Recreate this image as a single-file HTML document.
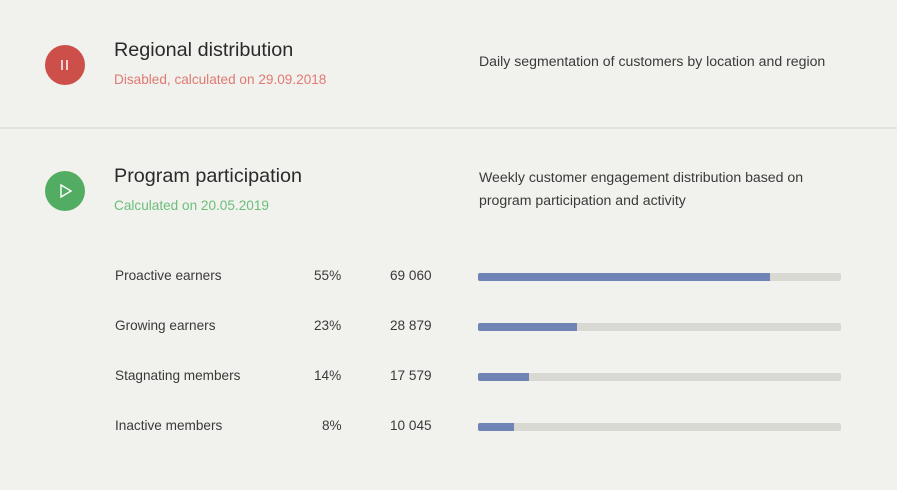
<!DOCTYPE html><html><head><style>
body{margin:0;width:897px;height:490px;background:#f1f1ed;font-family:"Liberation Sans",sans-serif;position:relative;overflow:hidden;color:#222}
.a{position:absolute;white-space:nowrap}
.c{position:absolute;width:40px;height:40px;border-radius:50%}
.t{font-size:19.8px;color:#2a2a2a}
.s{font-size:13.6px}
.d{font-size:14.1px;color:#3a3a3a;line-height:23px}
.l{font-size:13.6px;color:#3a3a3a}
.bar{position:absolute;left:478px;width:363px;height:8px;background:#d9d9d4;border-radius:2px}
.bar i{display:block;height:8px;background:#6f83b5;border-radius:2px 0 0 2px}
</style></head><body>
<div class="c" style="left:45px;top:45px;background:#cd4f49"></div>
<div class="a" style="left:61px;top:60px;width:2px;height:10px;background:#f4d0ce"></div>
<div class="a" style="left:66px;top:60px;width:2px;height:10px;background:#f4d0ce"></div>
<div class="a t" style="left:114px;top:39px">Regional distribution</div>
<div class="a s" style="left:114px;top:72px;color:#e07a73">Disabled, calculated on 29.09.2018</div>
<div class="a d" style="left:479px;top:50px">Daily segmentation of customers by location and region</div>
<div class="a" style="left:0;top:127px;width:897px;height:2px;background:#e2e2de"></div>
<div class="c" style="left:45px;top:171px;background:#52ad63"></div>
<svg class="a" style="left:59px;top:183px" width="14" height="16"><path d="M2 2 L12 8 L2 14 Z" fill="none" stroke="#fff" stroke-width="1.4"/></svg>
<div class="a t" style="left:114px;top:165px">Program participation</div>
<div class="a s" style="left:114px;top:198px;color:#6bbf7a">Calculated on 20.05.2019</div>
<div class="a d" style="left:479px;top:166px">Weekly customer engagement distribution based on<br>program participation and activity</div>

<div class="a l" style="left:115px;top:268px">Proactive earners</div><div class="a l" style="left:314px;top:268px">55%</div><div class="a l" style="left:390px;top:268px">69 060</div>
<div class="bar" style="top:273px"><i style="width:292px"></i></div>
<div class="a l" style="left:115px;top:318px">Growing earners</div><div class="a l" style="left:314px;top:318px">23%</div><div class="a l" style="left:390px;top:318px">28 879</div>
<div class="bar" style="top:323px"><i style="width:99px"></i></div>
<div class="a l" style="left:115px;top:368px">Stagnating members</div><div class="a l" style="left:314px;top:368px">14%</div><div class="a l" style="left:390px;top:368px">17 579</div>
<div class="bar" style="top:373px"><i style="width:51px"></i></div>
<div class="a l" style="left:115px;top:418px">Inactive members</div><div class="a l" style="left:322px;top:418px">8%</div><div class="a l" style="left:390px;top:418px">10 045</div>
<div class="bar" style="top:423px"><i style="width:36px"></i></div>
</body></html>
